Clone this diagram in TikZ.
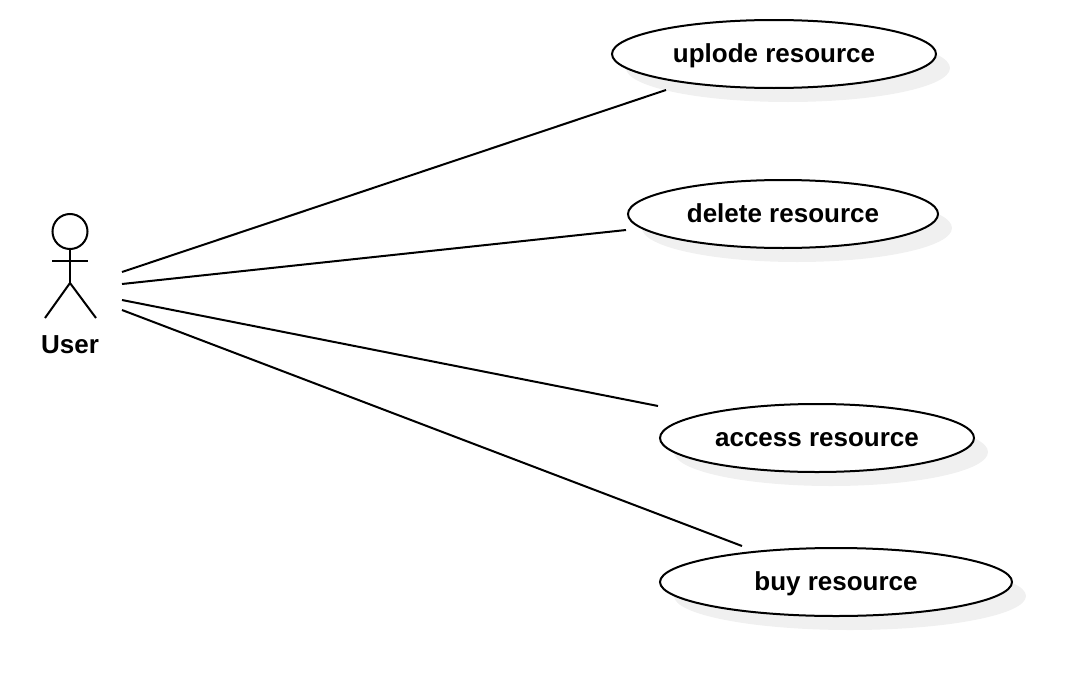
\documentclass[tikz,border=0pt]{standalone}
\usepackage{fontspec}
\setmainfont{Liberation Sans}
\usetikzlibrary{positioning,calc,shapes,shadows}
\tikzstyle{usecase}= [ellipse, draw, fill=white, line width=2pt, inner sep=0pt, font=\fontsize{26}{30}\selectfont\bfseries, text height=20pt, text depth=4pt, drop shadow={shadow xshift=14pt, shadow yshift=-14pt, fill=shadowgray, opacity=1}]
\tikzstyle{link}= [line width=2pt]
\definecolor{shadowgray}{HTML}{F0F0F0}

\begin{document}
\begin{tikzpicture}[x=1pt, y=-1pt]
	\useasboundingbox (0, 0) rectangle (1092, 696);

	\node[usecase, minimum width=324pt, minimum height=68pt] (upload) at (774, 54) {uplode resource};
	\node[usecase, minimum width=310pt, minimum height=68pt] (delete) at (783, 214) {delete resource};
	\node[usecase, minimum width=314pt, minimum height=68pt] (access) at (817, 438) {access resource};
	\node[usecase, minimum width=352pt, minimum height=68pt] (buy) at (836, 582) {buy resource};

	\node[circle, draw, line width=2pt, inner sep=0pt, minimum size=35pt] (head) at (70, 231.5) {};
	\coordinate (hip) at (70, 283);
	\coordinate (armL) at (52, 261);
	\coordinate (armR) at (88, 261);
	\coordinate (footL) at (45, 318);
	\coordinate (footR) at (96, 318);
	\node[font=\fontsize{26}{30}\selectfont\bfseries] (user) at (70, 345) {User};

	\draw[link] (head) -- (hip);
	\draw[link] (armL) -- (armR);
	\draw[link] (footL) -- (hip);
	\draw[link] (footR) -- (hip);

	\coordinate (u1) at (122, 272);
	\coordinate (u2) at (122, 284);
	\coordinate (u3) at (122, 300);
	\coordinate (u4) at (122, 310);
	\coordinate (c1) at (666, 90);
	\coordinate (c2) at (626, 230);
	\coordinate (c3) at (658, 406);
	\coordinate (c4) at (742, 546);

	\draw[link] (u1) -- (c1);
	\draw[link] (u2) -- (c2);
	\draw[link] (u3) -- (c3);
	\draw[link] (u4) -- (c4);
\end{tikzpicture}
\end{document}
